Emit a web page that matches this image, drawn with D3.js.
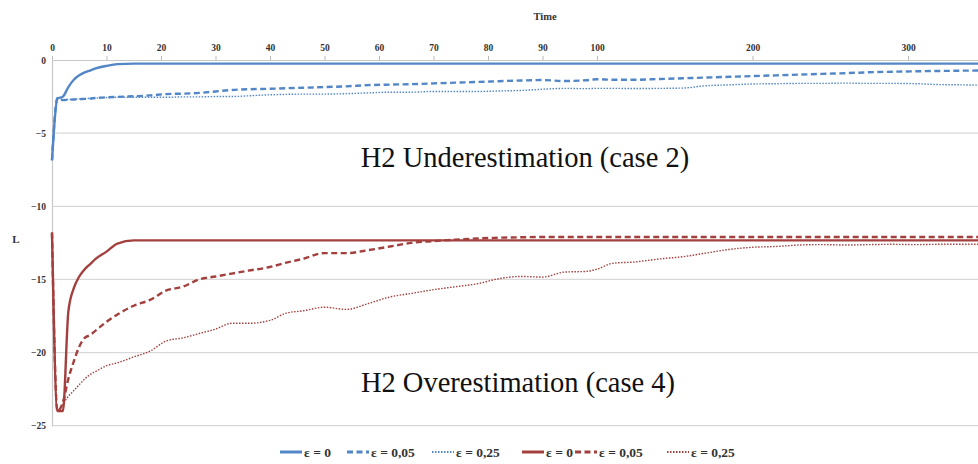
<!DOCTYPE html>
<html><head><meta charset="utf-8">
<script src="https://cdn.jsdelivr.net/npm/d3@7"></script>
<style>body{margin:0;background:#fff}svg{display:block}</style>
</head><body><svg id="c" width="978" height="464"></svg>
<script>
const times = [0,1,2,3,4,5,6,7,8,10,12,15,18,21,24,27,30,33,36,40,43,46,50,54,58,62,66,70,74,78,82,86,90,94,98,100,110,125,140,155,170,185,200,215,230,245,260,275,290,305,320,335,345];
const blueE0 = [-6.85,-2.65,-2.5,-1.85,-1.35,-1.05,-0.85,-0.72,-0.58,-0.4,-0.28,-0.25,-0.25,-0.25,-0.25,-0.25,-0.25,-0.25,-0.25,-0.25,-0.25,-0.25,-0.25,-0.25,-0.25,-0.25,-0.25,-0.25,-0.25,-0.25,-0.25,-0.25,-0.25,-0.25,-0.25,-0.25,-0.25,-0.25,-0.25,-0.25,-0.25,-0.25,-0.25,-0.25,-0.25,-0.25,-0.25,-0.25,-0.25,-0.25,-0.25,-0.25,-0.25];
const blueE005 = [-6.85,-2.6,-2.74,-2.72,-2.7,-2.68,-2.66,-2.64,-2.6,-2.55,-2.52,-2.48,-2.42,-2.33,-2.3,-2.25,-2.15,-2.05,-2.0,-1.97,-1.93,-1.9,-1.85,-1.8,-1.72,-1.68,-1.65,-1.6,-1.55,-1.5,-1.45,-1.4,-1.37,-1.44,-1.38,-1.32,-1.35,-1.35,-1.3,-1.25,-1.2,-1.15,-1.1,-1.05,-1.0,-0.95,-0.9,-0.84,-0.8,-0.77,-0.75,-0.73,-0.72];
const blueE025 = [-6.85,-2.6,-2.7,-2.7,-2.68,-2.66,-2.64,-2.62,-2.6,-2.57,-2.55,-2.55,-2.55,-2.55,-2.52,-2.52,-2.5,-2.5,-2.45,-2.38,-2.35,-2.33,-2.33,-2.3,-2.25,-2.2,-2.2,-2.15,-2.15,-2.15,-2.12,-2.08,-2.0,-1.94,-1.96,-1.94,-1.94,-1.95,-1.94,-1.92,-1.76,-1.7,-1.64,-1.62,-1.6,-1.6,-1.58,-1.6,-1.6,-1.62,-1.68,-1.7,-1.72];
const redE0 = [-11.8,-24,-24,-17.2,-15.6,-14.8,-14.3,-13.95,-13.6,-13.1,-12.55,-12.33,-12.33,-12.33,-12.33,-12.33,-12.33,-12.33,-12.33,-12.33,-12.33,-12.33,-12.33,-12.33,-12.33,-12.33,-12.33,-12.33,-12.33,-12.33,-12.33,-12.33,-12.33,-12.33,-12.33,-12.33,-12.33,-12.33,-12.33,-12.33,-12.33,-12.33,-12.33,-12.33,-12.33,-12.33,-12.33,-12.33,-12.33,-12.33,-12.33,-12.33,-12.33];
const redE005 = [-11.8,-24,-23.4,-21.8,-20.6,-19.6,-19.0,-18.8,-18.5,-17.9,-17.4,-16.8,-16.4,-15.75,-15.5,-15.0,-14.8,-14.6,-14.4,-14.15,-13.85,-13.6,-13.2,-13.2,-13.0,-12.75,-12.5,-12.38,-12.28,-12.2,-12.15,-12.12,-12.1,-12.1,-12.1,-12.1,-12.1,-12.1,-12.1,-12.1,-12.1,-12.1,-12.1,-12.1,-12.1,-12.1,-12.1,-12.1,-12.1,-12.1,-12.1,-12.1,-12.1];
const redE025 = [-11.8,-24,-23.5,-23.0,-22.6,-22.2,-21.8,-21.5,-21.3,-20.9,-20.7,-20.3,-19.9,-19.2,-19.0,-18.7,-18.4,-18.0,-18.0,-17.8,-17.3,-17.15,-16.9,-17.05,-16.65,-16.2,-15.95,-15.7,-15.5,-15.3,-14.95,-14.8,-14.84,-14.5,-14.45,-14.3,-13.9,-13.8,-13.6,-13.45,-13.2,-12.95,-12.8,-12.75,-12.65,-12.62,-12.65,-12.62,-12.6,-12.62,-12.6,-12.6,-12.6];
const xTicks = [0,10,20,30,40,50,60,70,80,90,100,200,300];
const yTicks = [0,-5,-10,-15,-20,-25];
const seriesNames = ["ε = 0","ε = 0,05","ε = 0,25","ε = 0","ε = 0,05","ε = 0,25"];
const annotations = ["H2 Underestimation (case 2)","H2 Overestimation (case 4)"];

const BLUE = "#5286c6", RED = "#a3403e";
const series = [
  {name:seriesNames[0], v:blueE0, c:BLUE, w:2.4, dash:null},
  {name:seriesNames[1], v:blueE005, c:BLUE, w:2.4, dash:"6,3.5"},
  {name:seriesNames[2], v:blueE025, c:BLUE, w:1.4, dash:"1.5,1.5"},
  {name:seriesNames[3], v:redE0, c:RED, w:2.4, dash:null},
  {name:seriesNames[4], v:redE005, c:RED, w:2.4, dash:"6,3.5"},
  {name:seriesNames[5], v:redE025, c:RED, w:1.4, dash:"1.5,1.5"}
];

const svg = d3.select("#c");
const x = d3.scaleLinear().domain([0,100,345]).range([52,597,978]);
const y = d3.scaleLinear().domain([0,-25]).range([60,425.7]);
const F = "'Liberation Serif','Times New Roman',serif";

svg.append("g").selectAll("line").data(yTicks.filter(d=>d<0)).join("line")
  .attr("x1",52).attr("x2",978).attr("y1",d=>y(d)).attr("y2",d=>y(d))
  .attr("stroke","#d9d9d9").attr("stroke-width",1.2);

const ya = svg.append("g").attr("transform","translate(52,0)")
  .call(d3.axisLeft(y).tickValues(yTicks).tickSize(0).tickPadding(6).tickFormat(d3.format("d")));
ya.select(".domain").attr("stroke","#c8c8c8").attr("stroke-width",1.2);
ya.selectAll("text").attr("font-family",F).attr("font-weight","bold").attr("font-size",9.5).attr("fill","#333");

const xa = svg.append("g").attr("transform","translate(0,60)")
  .call(d3.axisTop(x).tickValues(xTicks).tickSize(4).tickSizeOuter(0).tickPadding(5));
xa.select(".domain").attr("stroke","#c8c8c8").attr("stroke-width",1.2);
xa.selectAll(".tick line").attr("stroke","#bbb");
xa.selectAll("text").attr("font-family",F).attr("font-weight","bold").attr("font-size",9.5).attr("fill","#333");

svg.append("text").attr("x",545).attr("y",20).attr("text-anchor","middle")
  .attr("font-family",F).attr("font-weight","bold").attr("font-size",10.5).attr("fill","#333").text("Time");
svg.append("text").attr("x",16).attr("y",243).attr("text-anchor","middle")
  .attr("font-family",F).attr("font-weight","bold").attr("font-size",11).attr("fill","#333").text("L");

const line = d3.line().x((d,i)=>x(times[i])).y(d=>y(d)).curve(d3.curveMonotoneX);
svg.append("g").selectAll("path").data(series).join("path")
  .attr("d",s=>line(s.v)).attr("fill","none").attr("stroke",s=>s.c)
  .attr("stroke-width",s=>s.w).attr("stroke-dasharray",s=>s.dash)
  .attr("stroke-linejoin","round");

svg.append("text").attr("x",525).attr("y",167).attr("text-anchor","middle")
  .attr("font-family",F).attr("font-size",28.5).attr("fill","#111").text(annotations[0]);
svg.append("text").attr("x",518).attr("y",392).attr("text-anchor","middle")
  .attr("font-family",F).attr("font-size",28.5).attr("fill","#111").text(annotations[1]);

const lx = [280,347,432,522,575,667];
const lg = svg.append("g").selectAll("g").data(series).join("g")
  .attr("transform",(d,i)=>`translate(${lx[i]},452)`);
lg.append("line").attr("x1",0).attr("x2",22).attr("y1",0).attr("y2",0)
  .attr("stroke",d=>d.c).attr("stroke-width",d=>d.w+0.6).attr("stroke-dasharray",d=>d.dash);
lg.append("text").attr("x",24).attr("y",4.5).attr("font-family",F).attr("font-weight","bold")
  .attr("font-size",13.5).attr("fill","#333").text(d=>d.name);
</script></body></html>
